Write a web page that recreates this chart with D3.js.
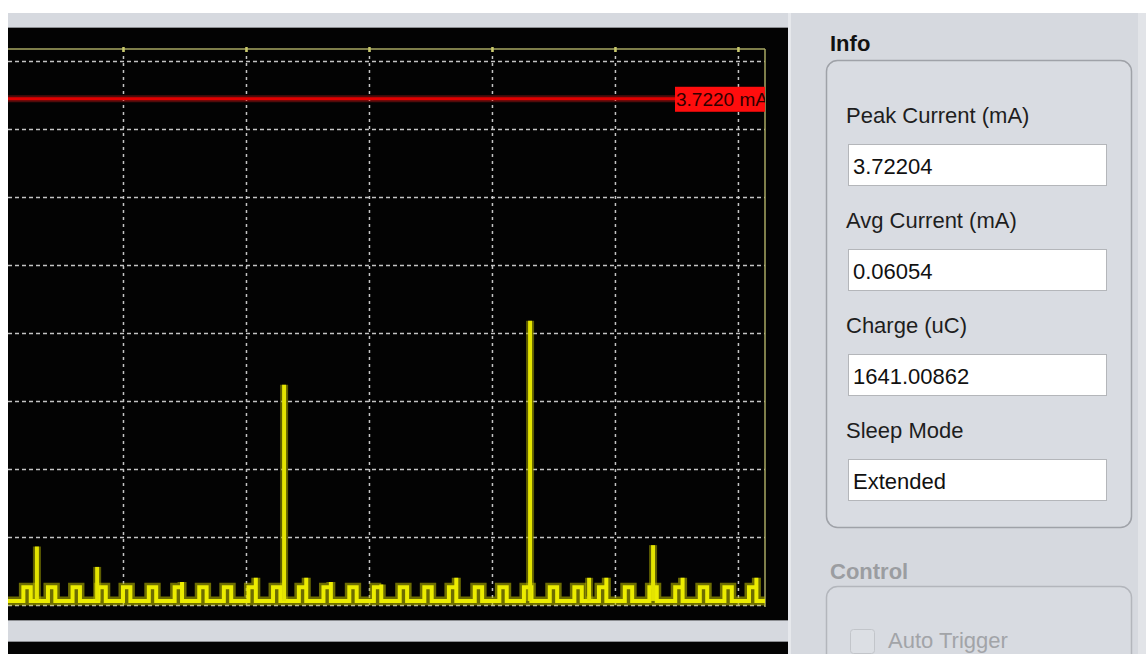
<!DOCTYPE html>
<html>
<head>
<meta charset="utf-8">
<script src="https://cdn.jsdelivr.net/npm/d3@7"></script>
<style>
  body { margin: 0; background: #ffffff; }
  svg { display: block; font-family: "Liberation Sans", Arial, sans-serif; }
</style>
</head>
<body>
<div id="canvas"></div>
<script>
"use strict"

let svgWidth = 1146;
let svgHeight = 654;

/* plot frame (pixels) */
let plotLeft = 8;
let plotRight = 765;
let plotTop = 49;
let plotBottom = 605;

/* Data: time in s, current in mA */
let gridTimes = [1, 2, 3, 4, 5, 6];
let gridCurrents = [0, 0.5, 1.0, 1.5, 2.0, 2.5, 3.0, 3.5, 4.0];
let peakCurrent = 3.7220;

let baseCurrent = 0.03;   // idle level of the trace
let pulseTop = 0.13;      // level of the small periodic pulses

let pulseTimes = [0.22, 0.42, 0.62, 0.83, 1.03, 1.24, 1.45, 1.65, 1.85, 2.05,
                  2.25, 2.46, 2.66, 2.87, 3.07, 3.28, 3.48, 3.68, 3.89, 4.09,
                  4.29, 4.50, 4.70, 4.90, 5.11, 5.31, 5.52, 5.72, 5.92, 6.12];
let pulseTicks = [0, 0, 0, 0, 0, 0, 0.17, 0, 0, 0.20,
                  0, 0.20, 0.17, 0, 0.15, 0, 0, 0.20, 0, 0,
                  0, 0, 0, 0.20, 0, 0, 0.20, 0, 0, 0.20];

let spikeTimes = [0.30, 0.79, 2.31, 4.31, 4.79, 5.31];
let spikeCurrents = [0.43, 0.28, 1.62, 2.09, 0.20, 0.44];

/* Info panel */
let infoLabels = ["Peak Current (mA)", "Avg Current (mA)", "Charge (uC)", "Sleep Mode"];
let infoValues = ["3.72204", "0.06054", "1641.00862", "Extended"];

/* Create drawing canvas */
let svg = d3.select("#canvas")
    .append("svg")
    .attr("width", svgWidth)
    .attr("height", svgHeight);

/* window background */
svg.append("rect")
    .attr("x", plotLeft)
    .attr("y", 13)
    .attr("width", svgWidth - plotLeft)
    .attr("height", svgHeight - 13)
    .attr("fill", "#d6d9df");

svg.append("rect")
    .attr("x", 1138)
    .attr("y", 13)
    .attr("width", 8)
    .attr("height", svgHeight - 13)
    .attr("fill", "#e2e4e8");

/* black scope areas */
svg.append("rect")
    .attr("x", plotLeft)
    .attr("y", 27)
    .attr("width", 780)
    .attr("height", 593)
    .attr("fill", "#030303");

svg.append("rect")
    .attr("x", plotLeft)
    .attr("y", 641)
    .attr("width", 780)
    .attr("height", 13)
    .attr("fill", "#030303");

[27, 620, 641].forEach(function (y) {
    svg.append("line")
        .attr("x1", plotLeft).attr("x2", 788)
        .attr("y1", y + 0.5).attr("y2", y + 0.5)
        .attr("stroke", "#8c8e92");
});

svg.append("rect")
    .attr("x", 788)
    .attr("y", 13)
    .attr("width", 3)
    .attr("height", svgHeight - 13)
    .attr("fill", "#e6e8ec");

/* Scales */
let xScale = d3.scaleLinear()
    .domain([0, 6.22])
    .range([0, plotRight]);

let yScale = d3.scaleLinear()
    .domain([0, 4.088])
    .range([plotBottom, plotTop]); // flipped for SVG

/* clips */
let defs = svg.append("defs");
defs.append("clipPath")
    .attr("id", "plotClip")
    .append("rect")
    .attr("x", plotLeft)
    .attr("y", plotTop)
    .attr("width", plotRight - plotLeft)
    .attr("height", 620 - plotTop);

defs.append("clipPath")
    .attr("id", "labelClip")
    .append("rect")
    .attr("x", 600)
    .attr("y", 80)
    .attr("width", plotRight - 600)
    .attr("height", 40);

/* Grid */
let vGrid = svg.append("g")
    .attr("transform", "translate(0," + plotBottom + ")")
    .call(d3.axisBottom(xScale)
        .tickValues(gridTimes)
        .tickSize(-(plotBottom - plotTop))
        .tickFormat(""));
vGrid.select(".domain").remove();
vGrid.selectAll("line")
    .attr("stroke", "#c4c4c4")
    .attr("stroke-width", 1.5)
    .attr("stroke-dasharray", "3,4");

let hGrid = svg.append("g")
    .attr("transform", "translate(" + plotLeft + ",0)")
    .call(d3.axisLeft(yScale)
        .tickValues(gridCurrents)
        .tickSize(-(plotRight - plotLeft))
        .tickFormat(""));
hGrid.select(".domain").remove();
hGrid.selectAll("line")
    .attr("stroke", "#c4c4c4")
    .attr("stroke-width", 1.5)
    .attr("stroke-dasharray", "4,3");

/* frame: top and right borders */
svg.append("line")
    .attr("x1", plotLeft).attr("x2", plotRight)
    .attr("y1", plotTop).attr("y2", plotTop)
    .attr("stroke", "#a9a963")
    .attr("stroke-width", 1.5);

svg.append("line")
    .attr("x1", plotRight).attr("x2", plotRight)
    .attr("y1", plotTop).attr("y2", 607)
    .attr("stroke", "#a9a963")
    .attr("stroke-width", 1.5);

let topTicks = svg.append("g")
    .attr("transform", "translate(0," + (plotTop + 3) + ")")
    .call(d3.axisTop(xScale)
        .tickValues(gridTimes)
        .tickSize(5)
        .tickFormat(""));
topTicks.select(".domain").remove();
topTicks.selectAll("line")
    .attr("stroke", "#c8c86a")
    .attr("stroke-width", 2.5);

/* Peak marker line */
let peakY = yScale(peakCurrent);

svg.append("line")
    .attr("x1", plotLeft).attr("x2", 676)
    .attr("y1", peakY).attr("y2", peakY)
    .attr("stroke", "#ff2020")
    .attr("stroke-width", 7)
    .attr("opacity", 0.3);

svg.append("line")
    .attr("x1", plotLeft).attr("x2", 676)
    .attr("y1", peakY).attr("y2", peakY)
    .attr("stroke", "#e00000")
    .attr("stroke-width", 3);

let peakLabel = svg.append("g")
    .attr("clip-path", "url(#labelClip)");

peakLabel.append("rect")
    .attr("x", 675)
    .attr("y", peakY - 12)
    .attr("width", 95)
    .attr("height", 25)
    .attr("fill", "#ff0d0d");

peakLabel.append("text")
    .attr("x", 676)
    .attr("y", peakY + 7)
    .attr("font-size", "19px")
    .attr("fill", "#300000")
    .text(peakCurrent.toFixed(4) + " mA");

/* Current trace built from the pulse list */
let hw = 0.03; // half width of a pulse (s)
let tracePoints = [[xScale.invert(plotLeft), baseCurrent]];
pulseTimes.forEach(function (t, i) {
    tracePoints.push([t - hw, baseCurrent]);
    tracePoints.push([t - hw, pulseTop]);
    tracePoints.push([t + hw, pulseTop]);
    if (pulseTicks[i] > 0) {
        tracePoints.push([t + hw, pulseTicks[i]]);
    }
    tracePoints.push([t + hw, baseCurrent]);
});
tracePoints.push([xScale.domain()[1], baseCurrent]);

let traceLine = d3.line()
    .x(function (d) { return xScale(d[0]); })
    .y(function (d) { return yScale(d[1]); });

let trace = svg.append("g")
    .attr("clip-path", "url(#plotClip)");

trace.append("path")
    .datum(tracePoints)
    .attr("d", traceLine)
    .attr("fill", "none")
    .attr("stroke", "#b4b400")
    .attr("stroke-width", 9)
    .attr("stroke-linejoin", "miter")
    .attr("opacity", 0.6);

let spikes = spikeTimes.map(function (t, i) {
    return {t: t, v: spikeCurrents[i]};
});

trace.selectAll("line.spikeGlow")
    .data(spikes)
    .join("line")
    .attr("class", "spikeGlow")
    .attr("x1", function (d) { return xScale(d.t); })
    .attr("x2", function (d) { return xScale(d.t); })
    .attr("y1", yScale(baseCurrent))
    .attr("y2", function (d) { return yScale(d.v); })
    .attr("stroke", "#a8a800")
    .attr("stroke-width", 8)
    .attr("opacity", 0.55);

trace.append("path")
    .datum(tracePoints)
    .attr("d", traceLine)
    .attr("fill", "none")
    .attr("stroke", "#ecec00")
    .attr("stroke-width", 4)
    .attr("stroke-linejoin", "miter");

trace.selectAll("line.spike")
    .data(spikes)
    .join("line")
    .attr("class", "spike")
    .attr("x1", function (d) { return xScale(d.t); })
    .attr("x2", function (d) { return xScale(d.t); })
    .attr("y1", yScale(baseCurrent))
    .attr("y2", function (d) { return yScale(d.v); })
    .attr("stroke", "#e4e400")
    .attr("stroke-width", 4);

/* Info panel */
svg.append("text")
    .attr("x", 830)
    .attr("y", 51)
    .attr("font-size", "22px")
    .attr("font-weight", "bold")
    .attr("fill", "#111111")
    .text("Info");

svg.append("rect")
    .attr("x", 826.5)
    .attr("y", 60.5)
    .attr("width", 305)
    .attr("height", 467)
    .attr("rx", 11)
    .attr("fill", "#d9dce2")
    .attr("stroke", "#9fa2a8")
    .attr("stroke-width", 1.5);

let boxTops = [144, 249, 354, 459];

svg.selectAll("text.infoLabel")
    .data(infoLabels)
    .join("text")
    .attr("class", "infoLabel")
    .attr("x", 846)
    .attr("y", function (d, i) { return boxTops[i] - 21; })
    .attr("font-size", "22px")
    .attr("fill", "#1e1e1e")
    .text(function (d) { return d; });

svg.selectAll("rect.infoBox")
    .data(infoValues)
    .join("rect")
    .attr("class", "infoBox")
    .attr("x", 848.5)
    .attr("y", function (d, i) { return boxTops[i] + 0.5; })
    .attr("width", 258)
    .attr("height", 41)
    .attr("fill", "#ffffff")
    .attr("stroke", "#b4b6ba");

svg.selectAll("text.infoValue")
    .data(infoValues)
    .join("text")
    .attr("class", "infoValue")
    .attr("x", 853)
    .attr("y", function (d, i) { return boxTops[i] + 30; })
    .attr("font-size", "22px")
    .attr("fill", "#111111")
    .text(function (d) { return d; });

/* Control panel (disabled) */
svg.append("text")
    .attr("x", 830)
    .attr("y", 579)
    .attr("font-size", "22px")
    .attr("font-weight", "bold")
    .attr("fill", "#9b9da1")
    .text("Control");

svg.append("rect")
    .attr("x", 826.5)
    .attr("y", 586.5)
    .attr("width", 305)
    .attr("height", 120)
    .attr("rx", 11)
    .attr("fill", "#d8dbe1")
    .attr("stroke", "#b3b6bc")
    .attr("stroke-width", 1.5);

svg.append("rect")
    .attr("x", 850.5)
    .attr("y", 629.5)
    .attr("width", 24)
    .attr("height", 24)
    .attr("rx", 3)
    .attr("fill", "#dcdfe4")
    .attr("stroke", "#c2c5ca");

svg.append("text")
    .attr("x", 888)
    .attr("y", 648)
    .attr("font-size", "22px")
    .attr("fill", "#a2a4a8")
    .text("Auto Trigger");
</script>
</body>
</html>
